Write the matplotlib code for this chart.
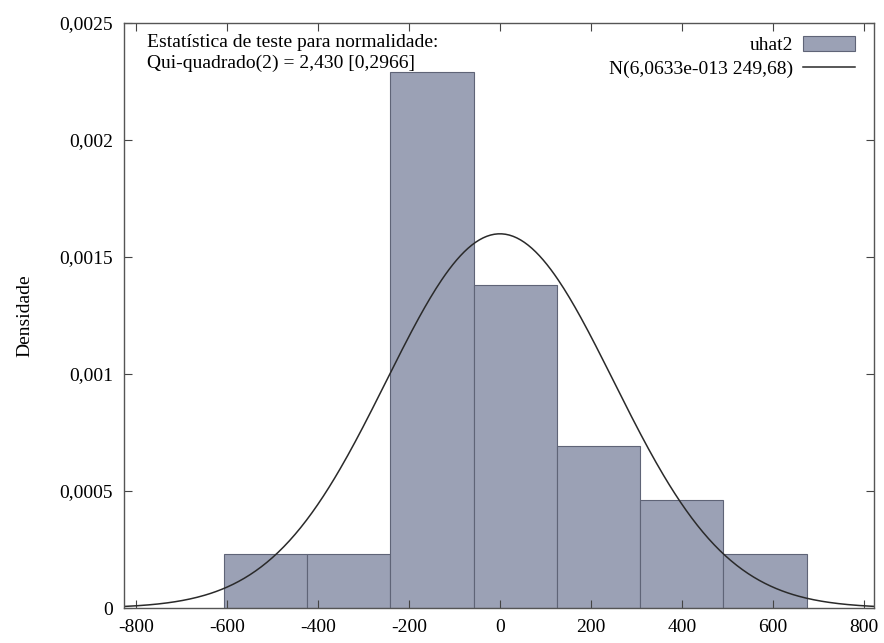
import numpy as np
import matplotlib
matplotlib.use("Agg")
import matplotlib.pyplot as plt
from matplotlib.ticker import FuncFormatter

# histogram of residuals (uhat2)
bin_edges = [-607, -424, -241, -58, 125, 308, 491, 674]
densities = [0.00023, 0.00023, 0.00229, 0.00138, 0.00069, 0.00046, 0.00023]

# fitted normal shown on the chart
norm_mean = 0.0
norm_sd = 249.68

x_ticks = [-800, -600, -400, -200, 0, 200, 400, 600, 800]
y_ticks = [0, 0.0005, 0.001, 0.0015, 0.002, 0.0025]

stat_lines = ["Estatística de teste para normalidade:",
              "Qui-quadrado(2) = 2,430 [0,2966]"]
hist_label = "uhat2"
norm_label = "N(6,0633e-013 249,68)"

plt.rcParams['font.family'] = ['Liberation Serif', 'DejaVu Serif']
plt.rcParams['axes.unicode_minus'] = False
fs = 14

fig = plt.figure(figsize=(8.84, 6.43), dpi=100)
ax = fig.add_axes([0.1403, 0.0544, 0.8484, 0.9106])

# bars
lefts = bin_edges[:-1]
widths = np.diff(bin_edges)
bars = ax.bar(lefts, densities, width=widths, align='edge', color='#9ba1b5',
              edgecolor='#5f6477', linewidth=0.8, label=hist_label)

# normal curve
xs = np.linspace(-826, 822, 400)
ys = np.exp(-0.5 * ((xs - norm_mean) / norm_sd) ** 2) / (norm_sd * np.sqrt(2 * np.pi))
line, = ax.plot(xs, ys, color='#2a2a2a', linewidth=1.1, label=norm_label)

ax.set_xlim(-826, 822)
ax.set_ylim(0, 0.0025)
ax.set_xticks(x_ticks)
ax.set_yticks(y_ticks)
ax.xaxis.set_major_formatter(FuncFormatter(lambda v, p: f"{v:g}"))
ax.yaxis.set_major_formatter(FuncFormatter(lambda v, p: f"{v:g}".replace('.', ',')))
ax.tick_params(direction='in', length=6, width=0.8, top=True, right=True,
               labelsize=fs, pad=8, color='#444444')
for s in ax.spines.values():
    s.set_color('#555555')
    s.set_linewidth(1.0)

ax.set_ylabel("Densidade", fontsize=fs, labelpad=19)

# test statistic, top left
ax.text(0.0307, 0.9667, stat_lines[0], transform=ax.transAxes, ha='left', va='center', fontsize=fs)
ax.text(0.0307, 0.9308, stat_lines[1], transform=ax.transAxes, ha='left', va='center', fontsize=fs)

ax.legend(handles=[bars, line], loc='upper right', bbox_to_anchor=(0.993, 1.0),
          frameon=False, markerfirst=False,
          fontsize=fs, handlelength=2.7, handleheight=0.8, borderaxespad=0.3,
          borderpad=0.4, labelspacing=0.3, handletextpad=0.5)

plt.savefig("out.png", dpi=100)
